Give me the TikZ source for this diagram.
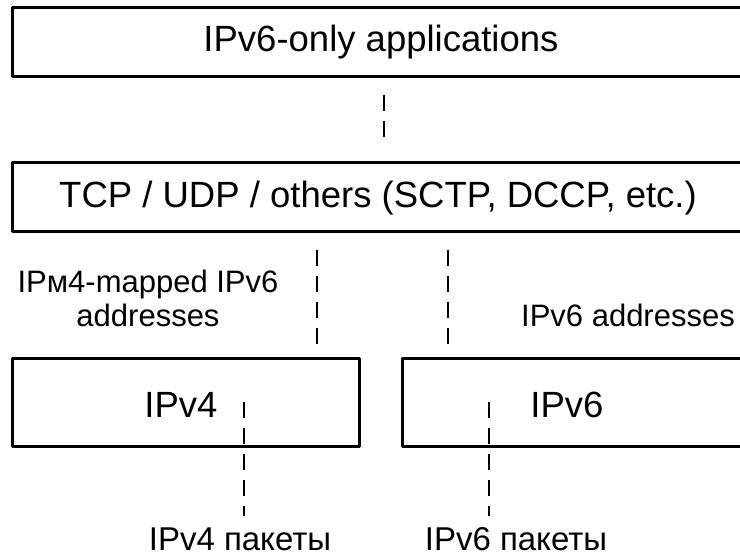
\documentclass[tikz,border=0pt]{standalone}
\usepackage{fontspec}
\setmainfont{Liberation Sans}
\begin{document}
\begin{tikzpicture}[x=1pt,y=-1pt,
  layer/.style={draw=black,line width=3pt,line join=round},
  boxtext/.style={font=\fontsize{36.5}{40}\selectfont,inner sep=0pt},
  lbltext/.style={font=\fontsize{31}{34}\selectfont,inner sep=0pt,align=center},
  pkttext/.style={font=\fontsize{33}{36}\selectfont,inner sep=0pt},
  link/.style={draw=black,line width=2pt,dash pattern=on 16pt off 10pt}]
\useasboundingbox (0,0) rectangle (740,559);
\fill[white] (0,0) rectangle (740,559);

% protocol layers (the right side runs past the page edge)
\draw[layer] (12,8) rectangle (770,77);
\node[boxtext] (app) at (381,42) {IPv6-only applications};
\draw[layer] (12,163) rectangle (770,232);
\node[boxtext] (tcp) at (378,198) {TCP / UDP / others (SCTP, DCCP, etc.)};
\draw[layer] (12,358) rectangle (359,446);
\node[boxtext] (v4) at (181,405) {IPv4};
\draw[layer] (402,358) rectangle (770,446);
\node[boxtext] (v6) at (567,405) {IPv6};

% labels
\node[lbltext] (mapped) at (148,298) {IPм4-mapped IPv6\\addresses};
\node[lbltext] (v6addr) at (628,315) {IPv6 addresses};
\node[pkttext,anchor=base] (v4pkt) at (240,550) {IPv4 пакеты};
\node[pkttext,anchor=base] (v6pkt) at (516,550) {IPv6 пакеты};

% dashed links between the layers
\coordinate (a1) at (384,95);  \coordinate (a2) at (384,140);
\coordinate (b1) at (317,250); \coordinate (b2) at (317,346);
\coordinate (c1) at (448,250); \coordinate (c2) at (448,346);
\coordinate (d1) at (244,402); \coordinate (d2) at (244,516);
\coordinate (e1) at (489,402); \coordinate (e2) at (489,516);
\draw[link] (a1) -- (a2);
\draw[link] (b1) -- (b2);
\draw[link] (c1) -- (c2);
\draw[link] (d1) -- (d2);
\draw[link] (e1) -- (e2);
\end{tikzpicture}
\end{document}
